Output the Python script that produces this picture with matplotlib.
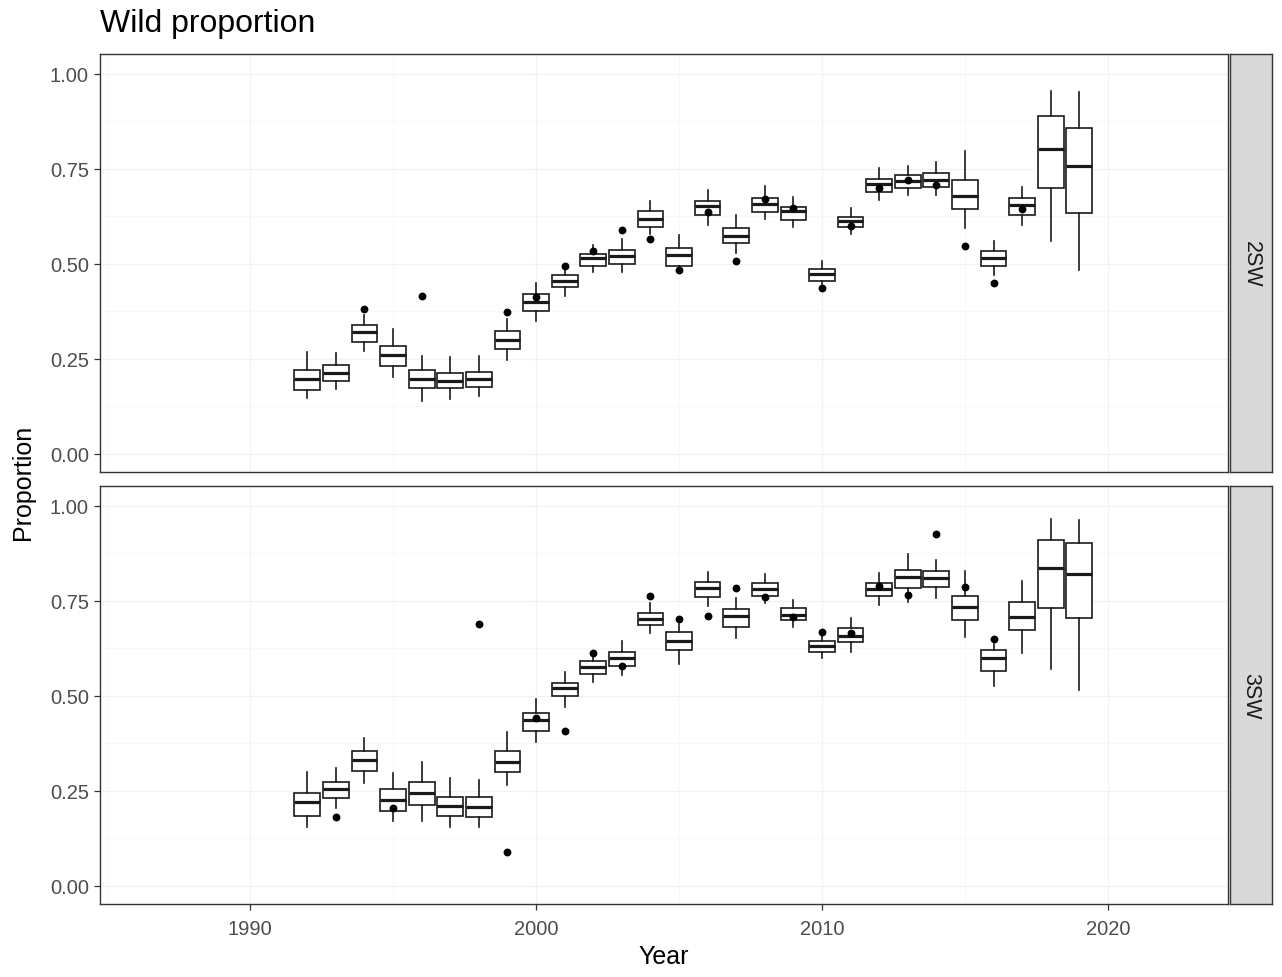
import numpy as np
import matplotlib
matplotlib.use("Agg")
import matplotlib.pyplot as plt

plt.rcParams['font.family'] = ['Liberation Sans', 'DejaVu Sans']

years = list(range(1992, 2020))

# 2SW posterior summaries: whisker low, Q1, median, Q3, whisker high
sw2_lo  = [0.147, 0.171, 0.271, 0.203, 0.139, 0.145, 0.153, 0.247, 0.350, 0.416,
           0.479, 0.479, 0.580, 0.487, 0.603, 0.529, 0.618, 0.597, 0.447, 0.579,
           0.668, 0.682, 0.682, 0.595, 0.471, 0.603, 0.561, 0.484]
sw2_q1  = [0.168, 0.192, 0.295, 0.232, 0.174, 0.174, 0.176, 0.276, 0.376, 0.439,
           0.495, 0.500, 0.597, 0.495, 0.629, 0.555, 0.637, 0.616, 0.455, 0.597,
           0.689, 0.700, 0.703, 0.645, 0.495, 0.629, 0.700, 0.634]
sw2_med = [0.197, 0.213, 0.321, 0.261, 0.197, 0.192, 0.197, 0.300, 0.400, 0.455,
           0.516, 0.521, 0.618, 0.524, 0.653, 0.574, 0.658, 0.639, 0.474, 0.613,
           0.711, 0.718, 0.721, 0.679, 0.516, 0.655, 0.803, 0.758]
sw2_q3  = [0.221, 0.234, 0.339, 0.284, 0.221, 0.213, 0.216, 0.324, 0.421, 0.471,
           0.526, 0.537, 0.639, 0.542, 0.666, 0.595, 0.674, 0.650, 0.487, 0.624,
           0.724, 0.734, 0.739, 0.721, 0.534, 0.674, 0.889, 0.858]
sw2_hi  = [0.268, 0.266, 0.366, 0.329, 0.258, 0.255, 0.258, 0.355, 0.450, 0.487,
           0.550, 0.566, 0.666, 0.576, 0.695, 0.629, 0.705, 0.676, 0.508, 0.647,
           0.753, 0.758, 0.768, 0.797, 0.561, 0.703, 0.955, 0.953]
sw2_obs = [np.nan, np.nan, 0.382, np.nan, 0.416, np.nan, np.nan, 0.374, 0.413, 0.495,
           0.534, 0.589, 0.566, 0.484, 0.637, 0.508, 0.671, 0.647, 0.437, 0.600,
           0.700, 0.721, 0.708, 0.547, 0.450, 0.645, np.nan, np.nan]

# 3SW posterior summaries
sw3_lo  = [0.156, 0.206, 0.272, 0.172, 0.172, 0.156, 0.156, 0.266, 0.380, 0.472,
           0.536, 0.554, 0.665, 0.583, 0.736, 0.652, 0.744, 0.681, 0.599, 0.617,
           0.739, 0.747, 0.757, 0.654, 0.525, 0.612, 0.570, 0.517]
sw3_q1  = [0.185, 0.232, 0.303, 0.198, 0.214, 0.185, 0.182, 0.301, 0.409, 0.499,
           0.557, 0.578, 0.686, 0.620, 0.760, 0.681, 0.763, 0.699, 0.615, 0.641,
           0.763, 0.784, 0.786, 0.699, 0.565, 0.673, 0.731, 0.704]
sw3_med = [0.222, 0.256, 0.332, 0.227, 0.245, 0.211, 0.208, 0.327, 0.438, 0.522,
           0.575, 0.599, 0.702, 0.646, 0.784, 0.710, 0.781, 0.712, 0.631, 0.657,
           0.781, 0.813, 0.810, 0.733, 0.599, 0.707, 0.836, 0.821]
sw3_q3  = [0.245, 0.274, 0.356, 0.256, 0.274, 0.235, 0.235, 0.356, 0.456, 0.533,
           0.591, 0.615, 0.718, 0.668, 0.799, 0.728, 0.797, 0.731, 0.644, 0.678,
           0.797, 0.831, 0.828, 0.763, 0.620, 0.747, 0.910, 0.902]
sw3_hi  = [0.301, 0.311, 0.390, 0.298, 0.325, 0.285, 0.280, 0.404, 0.491, 0.562,
           0.615, 0.644, 0.744, 0.689, 0.826, 0.757, 0.821, 0.752, 0.657, 0.704,
           0.823, 0.873, 0.858, 0.828, 0.636, 0.802, 0.966, 0.963]
sw3_obs = [np.nan, 0.182, np.nan, 0.206, np.nan, np.nan, 0.689, 0.090, 0.441, 0.409,
           0.612, 0.578, 0.763, 0.702, 0.710, 0.784, 0.760, 0.707, 0.668, 0.665,
           0.789, 0.765, 0.926, 0.786, 0.649, np.nan, np.nan, np.nan]

panels = [
    ("2SW", sw2_lo, sw2_q1, sw2_med, sw2_q3, sw2_hi, sw2_obs),
    ("3SW", sw3_lo, sw3_q1, sw3_med, sw3_q3, sw3_hi, sw3_obs),
]

W, H = 1282, 978
fig = plt.figure(figsize=(W / 100, H / 100), dpi=100)
fig.patch.set_facecolor("white")

left, right = 100, 1228
tops = [55, 487]
ph = 418
strip_l, strip_r = 1230, 1272

tick_col = "#4d4d4d"
for i, (lab, lo, q1, med, q3, hi, obs) in enumerate(panels):
    top = tops[i]
    ax = fig.add_axes([left / W, 1 - (top + ph) / H, (right - left) / W, ph / H])
    stats = [dict(whislo=a, q1=b, med=c, q3=d, whishi=e, fliers=[])
             for a, b, c, d, e in zip(lo, q1, med, q3, hi)]
    ax.bxp(stats, positions=years, widths=0.9, patch_artist=True, showcaps=False,
           boxprops=dict(facecolor="white", edgecolor="#1a1a1a", linewidth=1.2),
           whiskerprops=dict(color="#1a1a1a", linewidth=1.2),
           medianprops=dict(color="#1a1a1a", linewidth=2.3),
           manage_ticks=False, zorder=3)
    ax.scatter(years, obs, s=32, color="black", zorder=4, linewidths=0)
    ax.set_xlim(1984.75, 2024.2)
    ax.set_ylim(-0.0474, 1.0526)
    ax.set_yticks([0, 0.25, 0.5, 0.75, 1.0])
    ax.set_yticklabels(["0.00", "0.25", "0.50", "0.75", "1.00"])
    ax.set_xticks([1990, 2000, 2010, 2020])
    ax.set_xticks([1985, 1995, 2005, 2015], minor=True)
    ax.set_yticks([0.125, 0.375, 0.625, 0.875], minor=True)
    ax.grid(True, which="major", color="#f2f2f2", linewidth=0.9, zorder=0)
    ax.grid(True, which="minor", color="#f7f7f7", linewidth=0.6, zorder=0)
    ax.tick_params(which="minor", length=0)
    ax.tick_params(axis="both", which="major", colors="#333333", labelcolor=tick_col,
                   labelsize=14.5, length=4, width=0.9, pad=4)
    ax.tick_params(axis="x", pad=7)
    for s in ax.spines.values():
        s.set_color("#333333")
        s.set_linewidth(1.0)
    if i == 0:
        ax.tick_params(axis="x", labelbottom=False, length=0)
    else:
        ax.set_xlabel("Year", fontsize=18, color="black", labelpad=4)

    sax = fig.add_axes([strip_l / W, 1 - (top + ph) / H, (strip_r - strip_l) / W, ph / H])
    sax.set_facecolor("#d9d9d9")
    sax.set_xticks([])
    sax.set_yticks([])
    for s in sax.spines.values():
        s.set_color("#333333")
        s.set_linewidth(1.0)
    sax.text(0.5, 0.5, lab, rotation=-90, ha="center", va="center",
             fontsize=15.5, color="#1a1a1a", transform=sax.transAxes)

fig.text(11 / W, 1 - 482 / H, "Proportion", rotation=90, ha="left", va="center",
         fontsize=18, color="black")
fig.text(100 / W, 1 - 24 / H, "Wild proportion", ha="left", va="center",
         fontsize=23, color="black")

fig.savefig("out.png", dpi=100, facecolor="white")
